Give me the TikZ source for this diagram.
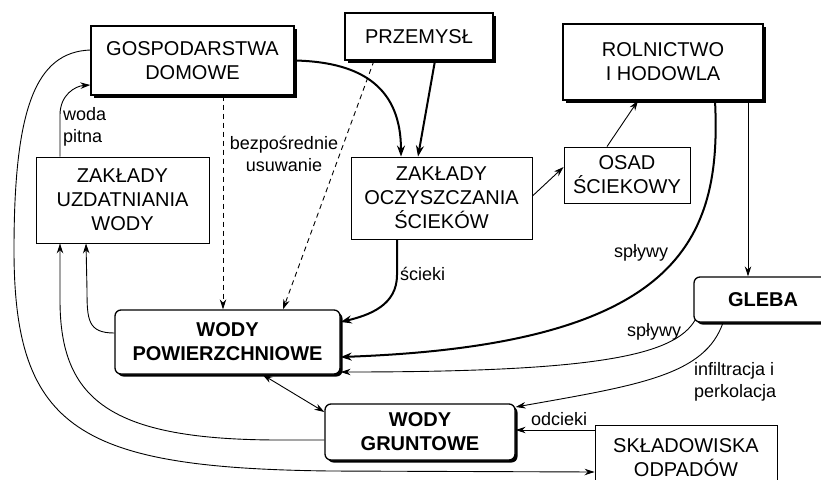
\documentclass[tikz,border=0pt]{standalone}
\usepackage{fontspec}
\setmainfont{Liberation Sans}
\usetikzlibrary{arrows.meta,shadows}
\begin{document}
\begin{tikzpicture}[x=1pt,y=-1pt,
 box/.style={draw, fill=white, line width=0.9pt, inner sep=0pt, align=center, font=\fontsize{20}{24}\selectfont},
 sbox/.style={box, line width=1.3pt, drop shadow={shadow xshift=2.5pt, shadow yshift=-2.5pt, fill=black, opacity=1}},
 rbox/.style={sbox, rounded corners=6pt, font=\fontsize{20}{24}\selectfont\bfseries},
 thickarrow/.style={line width=2pt, -{Stealth[length=11pt,width=8pt]}},
 thinarrow/.style={line width=0.9pt, -{Stealth[length=10pt,width=6.5pt]}},
 dasharrow/.style={thinarrow, dash pattern=on 5pt off 4pt},
 lbl/.style={inner sep=0pt, font=\fontsize{18}{22}\selectfont}]
\useasboundingbox (0,0) rectangle (821,479);
\clip (0,0) rectangle (821,479);

% nodes
\node[sbox, minimum width=203pt, minimum height=69pt] (gosp) at (192.5,60.5) {GOSPODARSTWA\\DOMOWE};
\node[sbox, minimum width=148pt, minimum height=47pt] (przem) at (419,36.5) {PRZEMYSŁ};
\node[sbox, minimum width=200pt, minimum height=76pt] (roln) at (663,62) {ROLNICTWO\\I HODOWLA};
\node[box, minimum width=173pt, minimum height=86pt] (zuw) at (122.5,200) {ZAKŁADY\\UZDATNIANIA\\WODY};
\node[box, minimum width=181pt, minimum height=82pt] (zos) at (441.5,198) {ZAKŁADY\\OCZYSZCZANIA\\ŚCIEKÓW};
\node[box, minimum width=126pt, minimum height=56pt] (osad) at (627,175) {OSAD\\ŚCIEKOWY};
\node[rbox, minimum width=225pt, minimum height=64pt] (wp) at (227.5,342) {WODY\\POWIERZCHNIOWE};
\node[rbox, minimum width=138pt, minimum height=45pt] (gleba) at (763,299.5) {GLEBA};
\node[rbox, minimum width=190pt, minimum height=56pt] (wg) at (420,432) {WODY\\GRUNTOWE};
\node[box, minimum width=182pt, minimum height=66pt] (skl) at (686,458) {SKŁADOWISKA\\ODPADÓW};

% connectors
\draw[thickarrow] (gosp.east) .. controls (365,62) and (401,90) .. ([xshift=-40.5pt]zos.north);
\draw[thickarrow] ([xshift=16pt]przem.south) -- ([xshift=-23.5pt]zos.north);
\draw[dasharrow] ([xshift=30.5pt]gosp.south) -- ([xshift=-4.5pt]wp.north);
\draw[dasharrow] ([xshift=-45pt]przem.south) -- ([xshift=55.5pt]wp.north);
\draw[thinarrow] ([xshift=-62.5pt]zuw.north) -- (60,115) .. controls (60,95) and (75,86) .. ([yshift=-24.5pt]gosp.west);
\draw[thinarrow] ([yshift=10.5pt]gosp.west) .. controls (35,52) and (14,110) .. (14,250) .. controls (14,430) and (80,468) .. (330,471) -- ([yshift=-14pt]skl.west);
\draw[thinarrow] ([yshift=-8pt]wg.west) -- (280,440) .. controls (110,440) and (60,400) .. (60,300) -- ([xshift=-62.5pt]zuw.south);
\draw[thinarrow] ([yshift=9pt]wp.west) .. controls (88,333) and (87,320) .. (87,290) -- ([xshift=-36.5pt]zuw.south);
\draw[thickarrow] ([xshift=-44.5pt]zos.south) -- (397,275) .. controls (397,305) and (370,315) .. ([yshift=20pt]wp.east);
\draw[thinarrow] ([yshift=2pt]zos.east) -- ([yshift=8pt]osad.west);
\draw[thinarrow] ([xshift=-20pt]osad.north) -- ([xshift=-25pt]roln.south);
\draw[thickarrow] ([xshift=52pt]roln.south) .. controls (722,240) and (680,345) .. ([yshift=-15pt]wp.east);
\draw[thinarrow] ([xshift=85pt]roln.south) -- ([xshift=-15pt]gleba.north);
\draw[thinarrow] ([xshift=2pt,yshift=3pt]gleba.south west) .. controls (675,355) and (600,372) .. ([yshift=-30pt]wp.east);
\draw[thinarrow] ([xshift=-40pt]gleba.south) .. controls (705,375) and (640,385) .. ([yshift=25pt]wg.east);
\draw[thinarrow] ([yshift=28pt]skl.west) -- ([yshift=2pt]wg.east);
\draw[thinarrow, {Stealth[length=10pt,width=6.5pt]}-{Stealth[length=10pt,width=6.5pt]}] ([xshift=35pt]wp.south) -- ([yshift=20pt]wg.west);

% labels
\node[lbl, align=left, anchor=north west] (lwoda) at (63,107) {woda\\pitna};
\node[lbl, align=center, anchor=north] (lbez) at (284,136) {bezpośrednie\\usuwanie};
\node[lbl, anchor=base west] (lscieki) at (400,280) {ścieki};
\node[lbl, anchor=base west] (lsp1) at (614,257) {spływy};
\node[lbl, anchor=base west] (lsp2) at (627,336) {spływy};
\node[lbl, align=left, anchor=north west] (linf) at (694,362) {infiltracja i\\perkolacja};
\node[lbl, anchor=base west] (lodc) at (531,425) {odcieki};
\end{tikzpicture}
\end{document}
